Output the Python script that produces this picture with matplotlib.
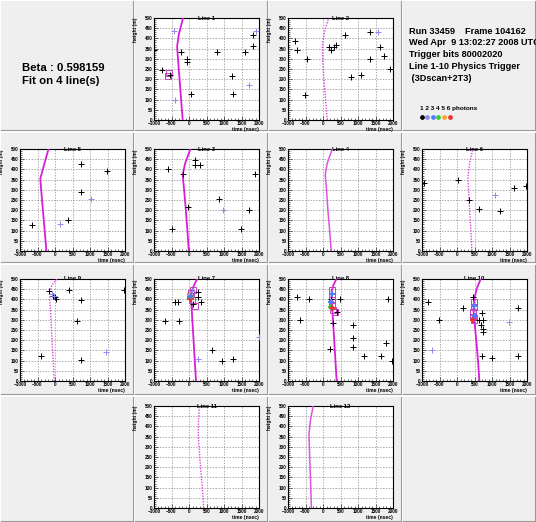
import matplotlib
matplotlib.use("Agg")
import matplotlib.pyplot as plt
from matplotlib.patches import Rectangle

plt.rcParams['font.family'] = ['Liberation Sans', 'DejaVu Sans']

W, H = 536, 522

# ---------------- data (time in ns, height in m) ----------------
# Line 1
L1_black_t = [-780, -225, -50, -50, 50, -550, 810, 1240, 1260, 1590, 1840, 1840, -990]
L1_black_z = [247, 332, 300, 285, 125, 219, 332, 215, 125, 332, 418, 361, 345]
L1_purple_t = [-435, -400, 1720, 1915]
L1_purple_z = [435, 96, 170, 435]
L1_fit_t = [-570, -610]
L1_fit_z = [232, 218]
L1_curve_z = [0, 100, 200, 300, 360, 420, 500]
L1_curve_t = [-180, -225, -270, -315, -340, -290, -170]

# Line 2
L2_black_t = [-800, -742, -455, -502, 158, 215, 310, 360, 617, 790, 1095, 1345, 1335, 1632, 1746, 1910]
L2_black_z = [386, 341, 299, 121, 356, 341, 356, 370, 415, 209, 222, 299, 430, 356, 312, 252]
L2_purple_t = [1574]
L2_purple_z = [430]
L2_curve_z = [0, 100, 200, 300, 360, 430, 500]
L2_curve_t = [120, 75, 25, -10, -20, 40, 160]

# Line 3
L3_black_t = [-608, -167, 158, 158, 311, -24, -483, 856, 1718, 1498, 1890]
L3_black_z = [404, 376, 448, 422, 422, 216, 109, 257, 199, 109, 376]
L3_purple_t = [980]
L3_purple_z = [199]
L3_curve_z = [0, 100, 200, 300, 375, 430, 500]
L3_curve_t = [-5, -45, -90, -140, -180, -110, 40]

# Line 4
L4_curve_z = [0, 100, 200, 300, 375, 430, 500]
L4_curve_t = [235, 190, 140, 100, 65, 120, 265]

# Line 5
L5_black_t = [-655, 732, 1478, 742, 368]
L5_black_z = [126, 426, 394, 289, 154]
L5_purple_t = [148, 1038]
L5_purple_z = [132, 257]
L5_curve_z = [0, 100, 200, 300, 355, 430, 500]
L5_curve_t = [-245, -295, -345, -395, -420, -300, -185]

# Line 6
L6_black_t = [-933, 24, 330, 636, 1220, 1622, 1976]
L6_black_z = [335, 346, 250, 204, 194, 307, 320]
L6_purple_t = [1095]
L6_purple_z = [273]
L6_curve_z = [0, 100, 200, 300, 360, 430, 500]
L6_curve_t = [425, 395, 360, 330, 310, 360, 455]

# Line 7
L7_black_t = [-692, -298, -390, -320, 654, 942, 1260, 250, 250, 346, 105]
L7_black_z = [295, 295, 387, 387, 150, 97, 110, 435, 411, 387, 379]
L7_purple_t = [269, 1995, 90]
L7_purple_z = [110, 215, 440]
L7_fit_t = [106, 39, 77, 173, 60]
L7_fit_z = [444, 419, 398, 368, 430]
L7_multi_t = [19, 58, 19, 70]
L7_multi_z = [424, 411, 402, 417]
L7_multi_n = [5, 4, 6, 3]
L7_curve_z = [0, 100, 200, 300, 400, 425, 460, 500]
L7_curve_t = [200, 165, 130, 95, 62, 60, 120, 230]

# Line 8
L8_black_t = [-731, -394, -663, 202, 279, 490, 394, 846, 856, 846, 1183, 1644, 1808, 1865, 1962, 231]
L8_black_z = [411, 400, 298, 156, 282, 400, 339, 273, 213, 169, 124, 124, 187, 403, 97, 400]
L8_fit_t = [250, 250, 250, 245, 280, 330]
L8_fit_z = [444, 419, 395, 371, 347, 340]
L8_multi_t = [250, 240, 235, 250]
L8_multi_z = [425, 385, 365, 358]
L8_multi_n = [3, 3, 4, 6]
L8_curve_z = [0, 100, 200, 300, 400, 440, 470, 500]
L8_curve_t = [390, 355, 320, 285, 250, 245, 300, 380]

# Line 9
L9_black_t = [-183, -58, 38, 394, 731, 635, 731, -404, 1981, 10]
L9_black_z = [440, 419, 403, 444, 398, 295, 105, 124, 444, 412]
L9_purple_t = [-87, -20, 1452]
L9_purple_z = [427, 415, 140]
L9_curve_z = [0, 100, 200, 300, 400, 440, 470, 500]
L9_curve_t = [-20, -50, -85, -115, -150, -140, -90, 55]

# Line 10
L10_black_t = [-839, -527, 164, 466, 703, 637, 731, 675, 750, 750, 703, 987, 1743, 1743]
L10_black_z = [387, 298, 360, 411, 331, 298, 298, 274, 253, 242, 124, 113, 360, 124]
L10_purple_t = [-726, 1488]
L10_purple_z = [150, 290]
L10_fit_t = [485, 485, 470, 470, 485]
L10_fit_z = [387, 363, 339, 315, 298]
L10_multi_t = [466, 485, 500]
L10_multi_z = [298, 370, 320]
L10_multi_n = [6, 3, 3]
L10_curve_z = [0, 100, 200, 300, 350, 400, 450, 500]
L10_curve_t = [640, 600, 550, 495, 470, 490, 560, 675]

# Line 11
L11_curve_z = [0, 100, 200, 300, 360, 430, 500]
L11_curve_t = [420, 380, 330, 285, 265, 270, 300]

# Line 12
L12_curve_z = [0, 100, 200, 300, 360, 430, 500]
L12_curve_t = [-330, -350, -370, -390, -400, -360, -280]

photon_labels = ["1", "2", "3", "4", "5", "6"]
photon_colors = ["#000000", "#8c8cf0", "#4f7bff", "#33cc33", "#ffa030", "#ee3030"]

run_text = ["Run 33459    Frame 104162",
            "Wed Apr  9 13:02:27 2008 UTC",
            "Trigger bits 80002020",
            "Line 1-10 Physics Trigger",
            " (3Dscan+2T3)"]
beta_text = ["Beta : 0.598159", "Fit on 4 line(s)"]

# panels: (name, col, row, black, purple, fit squares, multi hits, curve, style)
panels = [
    ("Line 1", 1, 0, (L1_black_t, L1_black_z), (L1_purple_t, L1_purple_z), (L1_fit_t, L1_fit_z), None, (L1_curve_t, L1_curve_z), True),
    ("Line 2", 2, 0, (L2_black_t, L2_black_z), (L2_purple_t, L2_purple_z), None, None, (L2_curve_t, L2_curve_z), False),
    ("Line 5", 0, 1, (L5_black_t, L5_black_z), (L5_purple_t, L5_purple_z), None, None, (L5_curve_t, L5_curve_z), True),
    ("Line 3", 1, 1, (L3_black_t, L3_black_z), (L3_purple_t, L3_purple_z), None, None, (L3_curve_t, L3_curve_z), True),
    ("Line 4", 2, 1, None, None, None, None, (L4_curve_t, L4_curve_z), 'light'),
    ("Line 6", 3, 1, (L6_black_t, L6_black_z), (L6_purple_t, L6_purple_z), None, None, (L6_curve_t, L6_curve_z), False),
    ("Line 9", 0, 2, (L9_black_t, L9_black_z), (L9_purple_t, L9_purple_z), None, None, (L9_curve_t, L9_curve_z), False),
    ("Line 7", 1, 2, (L7_black_t, L7_black_z), (L7_purple_t, L7_purple_z), (L7_fit_t, L7_fit_z), (L7_multi_t, L7_multi_z, L7_multi_n), (L7_curve_t, L7_curve_z), True),
    ("Line 8", 2, 2, (L8_black_t, L8_black_z), None, (L8_fit_t, L8_fit_z), (L8_multi_t, L8_multi_z, L8_multi_n), (L8_curve_t, L8_curve_z), True),
    ("Line 10", 3, 2, (L10_black_t, L10_black_z), (L10_purple_t, L10_purple_z), (L10_fit_t, L10_fit_z), (L10_multi_t, L10_multi_z, L10_multi_n), (L10_curve_t, L10_curve_z), True),
    ("Line 11", 1, 3, None, None, None, None, (L11_curve_t, L11_curve_z), False),
    ("Line 12", 2, 3, None, None, None, None, (L12_curve_t, L12_curve_z), 'light'),
]

# ---------------- layout (pixels) ----------------
fig = plt.figure(figsize=(W / 100, H / 100), dpi=100)
fig.patch.set_facecolor("white")

col_x = [0, 134, 268, 402]
row_y = [0, 132, 264, 396]
cell_w = 134
cell_h = [131, 131, 131, 126]
frame_top = [18, 149, 279, 406]
frame_h = [102, 102, 102, 102]
frame_dx, frame_w = 20, 105

bg = fig.add_axes([0, 0, 1, 1])
bg.set_xlim(0, W)
bg.set_ylim(H, 0)
bg.axis("off")
for r in range(4):
    for c in range(4):
        x0, y0 = col_x[c], row_y[r]
        h = cell_h[r]
        bg.add_patch(Rectangle((x0 + 1, y0 + 1), cell_w - 2, h - 2, facecolor="#efefef",
                               edgecolor="none"))
        bg.plot([x0 + 1, x0 + cell_w - 1], [y0 + h - 1, y0 + h - 1], color="#9a9a9a", lw=0.8)
        bg.plot([x0 + cell_w - 1, x0 + cell_w - 1], [y0 + 1, y0 + h - 1], color="#9a9a9a", lw=0.8)

MAG = "#d81ed8"


def px_axes(x, y, w, h):
    return fig.add_axes([x / W, 1 - (y + h) / H, w / W, h / H])


for (name, c, r, black, purple, fit, multi, curve, style) in panels:
    x0 = col_x[c]
    ax = px_axes(x0 + frame_dx, frame_top[r], frame_w, frame_h[r])
    ax.set_facecolor("white")
    ax.set_xlim(-1000, 2000)
    ax.set_ylim(0, 500)
    ax.set_xticks([-1000, -500, 0, 500, 1000, 1500, 2000])
    ax.set_yticks(range(0, 501, 50))
    ax.set_xticks(range(-1000, 2001, 100), minor=True)
    ax.set_yticks(range(0, 501, 10), minor=True)
    ax.grid(True, which="major", color="#8a8a8a", linestyle=(0, (2, 2)), linewidth=0.5)
    ax.tick_params(which="both", direction="in", top=False, right=False,
                   labelsize=3.3, pad=1, width=0.4)
    ax.tick_params(which="major", length=3)
    ax.tick_params(which="minor", length=1.5)
    for lab in ax.get_xticklabels() + ax.get_yticklabels():
        lab.set_fontweight("bold")
    for s in ax.spines.values():
        s.set_linewidth(0.8)
    ax.text(1.0, -0.07, "time (nsec)", transform=ax.transAxes, ha="right", va="top",
            fontsize=3.6, fontweight="bold")
    ax.text(-0.15, 1.0, "height (m)", transform=ax.transAxes, ha="right", va="top",
            rotation=90, fontsize=3.6, fontweight="bold")
    ax.text(0.5, 1.0, name, transform=ax.transAxes, ha="center", va="center",
            fontsize=4.2, fontweight="bold")

    ct, cz = curve
    if style is True:
        ax.plot(ct, cz, color=MAG, lw=1.3, zorder=3)
    elif style == 'light':
        ax.plot(ct, cz, color="#dd55dd", lw=1.1, zorder=3)
    else:
        ax.plot(ct, cz, color="#dd44dd", lw=1.0, linestyle=(0, (1, 1)), zorder=3)

    if fit is not None:
        ax.plot(fit[0], fit[1], linestyle="none", marker="s", markersize=4.5,
                markerfacecolor="none", markeredgecolor="#c040c0", markeredgewidth=0.7, zorder=4)
    if black is not None:
        ax.plot(black[0], black[1], linestyle="none", marker="+", markersize=5,
                color=photon_colors[0], markeredgewidth=0.7, zorder=5)
    if purple is not None:
        ax.plot(purple[0], purple[1], linestyle="none", marker="+", markersize=5,
                color=photon_colors[1], markeredgewidth=0.7, zorder=5)
    if multi is not None:
        for t, z, n in zip(*multi):
            ax.plot([t], [z], linestyle="none", marker="+", markersize=4,
                    color=photon_colors[n - 1], markeredgewidth=1.4, zorder=6)

# ---------------- texts ----------------
for i, s in enumerate(beta_text):
    bg.text(22, 68 + i * 13.5, s, fontsize=8.2, fontweight="bold", va="center", ha="left")

for i, s in enumerate(run_text):
    bg.text(409, 31 + i * 11.8, s, fontsize=6.6, fontweight="bold", va="center", ha="left")

bg.text(420, 108.5, " ".join(photon_labels) + " photons", fontsize=4.6, fontweight="bold",
        va="center", ha="left")
for i, col in enumerate(photon_colors):
    bg.plot([421.5 + i * 5.6], [116.5], marker="o", markersize=2.4, color=col,
            linestyle="none")

fig.savefig("out.png", dpi=100, facecolor="white")
